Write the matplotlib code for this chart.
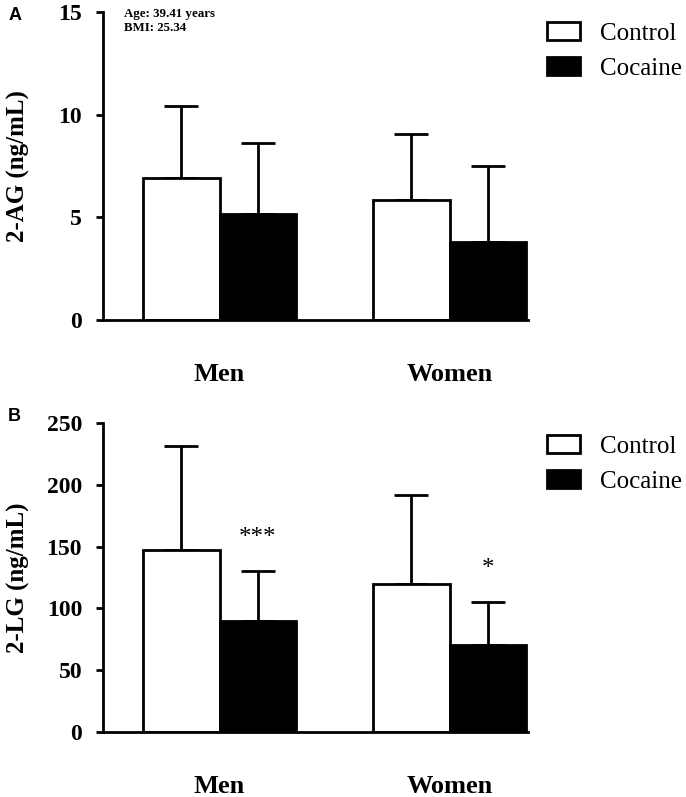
import matplotlib
matplotlib.use("Agg")
from matplotlib import pyplot as plt
from matplotlib.patches import Patch

# Values
groups = ["Men", "Women"]
ag_control = [6.9, 5.85]
ag_control_sd = [3.5, 3.2]
ag_cocaine = [5.15, 3.8]
ag_cocaine_sd = [3.45, 3.7]

lg_control = [147, 120]
lg_control_sd = [84, 72]
lg_cocaine = [90, 70]
lg_cocaine_sd = [40, 35]
lg_stars = ["***", "*"]

serif = "Liberation Serif"
plt.rcParams['font.family'] = serif

fig = plt.figure(figsize=(6.86, 7.97), dpi=100)
ax_a = fig.add_axes([0.150, 0.5985, 0.6195, 0.3865])
ax_b = fig.add_axes([0.150, 0.0816, 0.6195, 0.3877])


def draw_panel(ax, ctrl, ctrl_sd, coc, coc_sd, ymax, step, ylabel):
    xs = [0, 3]
    for x, v, e, fc in [(xs[0] - 0.5, ctrl[0], ctrl_sd[0], 'white'),
                        (xs[1] - 0.5, ctrl[1], ctrl_sd[1], 'white'),
                        (xs[0] + 0.5, coc[0], coc_sd[0], 'black'),
                        (xs[1] + 0.5, coc[1], coc_sd[1], 'black')]:
        ax.errorbar(x, v, yerr=[[0], [e]], fmt='none', ecolor='black',
                    elinewidth=2, capsize=12, capthick=2, zorder=1)
        ax.bar(x, v, width=1.0, color=fc, edgecolor='black', linewidth=2, zorder=2)

    ax.set_xlim(-1.52, 4.02)
    ax.set_ylim(0, ymax)
    ax.set_yticks(range(0, ymax + 1, step))
    ax.set_xticks(xs)
    ax.set_xticklabels(groups, fontsize=19, fontweight='bold')
    ax.tick_params(axis='x', length=0, pad=31)
    ax.tick_params(axis='y', direction='out', length=5, width=2, labelsize=17, pad=10)
    for lab in ax.get_yticklabels():
        lab.set_fontweight('bold')
    ax.spines['top'].set_visible(False)
    ax.spines['right'].set_visible(False)
    ax.spines['left'].set_linewidth(2)
    ax.spines['bottom'].set_linewidth(2)
    ax.set_ylabel(ylabel, fontsize=18, fontweight='bold')
    ax.yaxis.set_label_coords(-0.172, 0.5)


draw_panel(ax_a, ag_control, ag_control_sd, ag_cocaine, ag_cocaine_sd, 15, 5, "2-AG (ng/mL)")
draw_panel(ax_b, lg_control, lg_control_sd, lg_cocaine, lg_cocaine_sd, 250, 50, "2-LG (ng/mL)")

# Significance stars above cocaine error bars
for x, top, s in zip([0.5, 3.5], [c + e for c, e in zip(lg_cocaine, lg_cocaine_sd)], lg_stars):
    ax_b.text(x, top + 27, s, ha='center', va='center', fontsize=18)

# Demographics note
fig.text(124 / 686, 1 - 14 / 797, "Age: 39.41 years", fontsize=9.3, fontweight='bold', va='center')
fig.text(124 / 686, 1 - 28 / 797, "BMI: 25.34", fontsize=9.3, fontweight='bold', va='center')

# Panel letters
fig.text(0.012, 0.980, "A", family="Liberation Sans", fontweight='bold', fontsize=13, va='center')
fig.text(0.012, 0.477, "B", family="Liberation Sans", fontweight='bold', fontsize=13, va='center')

handles = [Patch(facecolor='white', edgecolor='black', linewidth=2, label='Control'),
           Patch(facecolor='black', edgecolor='black', linewidth=2, label='Cocaine')]
for ax, ytop in [(ax_a, 1 - 22 / 797), (ax_b, 1 - 435 / 797)]:
    fig.legend(handles=handles, loc='upper left', bbox_to_anchor=(547 / 686, ytop),
               frameon=False, fontsize=18, borderpad=0, borderaxespad=0,
               handlelength=1.33, handleheight=0.72, handletextpad=0.8, labelspacing=0.5)

plt.savefig("out.png", dpi=100)
